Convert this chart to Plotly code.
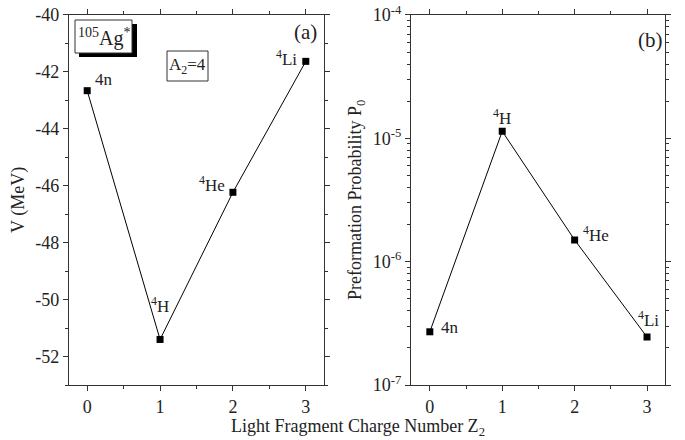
import plotly.graph_objects as go
import math

z2 = [0, 1, 2, 3]
labels = ["4n", "<sup>4</sup>H", "<sup>4</sup>He", "<sup>4</sup>Li"]
V = [-42.66, -51.4, -46.23, -41.63]
P0 = [2.7e-7, 1.14e-5, 1.5e-6, 2.45e-7]
v_ticks = [-40, -42, -44, -46, -48, -50, -52]
v_ticktext = [str(t) for t in v_ticks]
p_ticks = [1e-7, 1e-6, 1e-5, 1e-4]
p_ticktext = ["10<sup>-7</sup>", "10<sup>-6</sup>", "10<sup>-5</sup>", "10<sup>-4</sup>"]

FONT = "Liberation Serif"
fs = 18

fig = go.Figure()
fig.add_trace(go.Scatter(x=z2, y=V, mode="lines+markers", xaxis="x", yaxis="y",
                         line=dict(color="black", width=1),
                         marker=dict(symbol="square", size=7, color="black"),
                         showlegend=False))
fig.add_trace(go.Scatter(x=z2, y=P0, mode="lines+markers", xaxis="x2", yaxis="y2",
                         line=dict(color="black", width=1),
                         marker=dict(symbol="square", size=7, color="black"),
                         showlegend=False))

axcommon = dict(showgrid=False, zeroline=False, showline=True, linecolor="#333",
                linewidth=1.2, mirror="ticks", ticks="outside", ticklen=5, automargin=False,
                tickcolor="#333", tickfont=dict(family=FONT, size=fs, color="#222"))

fig.update_layout(
    width=685, height=440,
    margin=dict(l=0, r=0, t=0, b=0, autoexpand=False),
    paper_bgcolor="white", plot_bgcolor="white",
    font=dict(family=FONT, size=fs, color="#222"),
    xaxis=dict(domain=[0.1007, 0.473], range=[-0.25, 3.25], tickvals=[0, 1, 2, 3],
               minor=dict(ticks="outside", ticklen=3, dtick=0.5, tick0=0, tickcolor="#333"),
               anchor="y", **axcommon),
    yaxis=dict(domain=[0.125, 0.966], range=[-53, -40], tickvals=v_ticks, ticktext=v_ticktext,
               minor=dict(ticks="outside", ticklen=3, dtick=1, tick0=0, tickcolor="#333"),
               anchor="x", **axcommon),
    xaxis2=dict(domain=[0.6, 0.971], range=[-0.26, 3.25], tickvals=[0, 1, 2, 3],
                minor=dict(ticks="outside", ticklen=3, dtick=0.5, tick0=0, tickcolor="#333"),
                anchor="y2", **axcommon),
    yaxis2=dict(domain=[0.125, 0.966], type="log", range=[-7, -4],
                tickvals=p_ticks, ticktext=p_ticktext,
                minor=dict(ticks="outside", ticklen=3, tickcolor="#333",
                           tickvals=[m * 10 ** e for e in (-7, -6, -5) for m in range(2, 10)]),
                anchor="x2", **axcommon),
)

ann = []
ann.append(dict(text="V (MeV)", x=18, y=200, showarrow=False, textangle=-90, font=dict(size=fs)))
ann.append(dict(text="Preformation Probability P<sub>0</sub>", x=356, y=200, showarrow=False,
                textangle=-90, font=dict(size=fs)))
ann.append(dict(text="Light Fragment Charge Number Z<sub>2</sub>", x=358, y=427, showarrow=False,
                font=dict(size=fs)))
ann.append(dict(text="(a)", x=305, y=32, showarrow=False, font=dict(size=21)))
ann.append(dict(text="(b)", x=650, y=40, showarrow=False, font=dict(size=21)))
ann.append(dict(text="<sup>105</sup>Ag<sup>*</sup>", x=103.5, y=37, showarrow=False, font=dict(size=20)))
ann.append(dict(text="A<sub>2</sub>=4", x=187.5, y=66, showarrow=False, font=dict(size=17)))
for a in ann:
    a["x"] = a["x"] / 685
    a["y"] = 1 - a["y"] / 440
    a["xref"] = "paper"
    a["yref"] = "paper"
    a["xanchor"] = "center"
    a["yanchor"] = "middle"

left_off = [(6, 11, "left"), (0, 34, "center"), (-6, 8, "right"), (-7, 3, "right")]
for xi, yi, lab, (dx, dy, anc) in zip(z2, V, labels, left_off):
    ann.append(dict(text=lab, x=xi, y=yi, xref="x", yref="y", showarrow=False,
                    xanchor=anc, yanchor="middle", xshift=dx, yshift=dy, font=dict(size=17)))
right_off = [(9, 4, "left"), (0, 14, "center"), (6, 6, "left"), (1, 18, "center")]
for xi, yi, lab, (dx, dy, anc) in zip(z2, P0, labels, right_off):
    ann.append(dict(text=lab, x=xi, y=math.log10(yi), xref="x2", yref="y2", showarrow=False,
                    xanchor=anc, yanchor="middle", xshift=dx, yshift=dy, font=dict(size=17)))

fig.update_layout(annotations=ann)

shapes = []
shapes.append(dict(type="rect", xref="paper", yref="paper", layer="below",
                   x0=79/685, x1=137/685, y0=1-57/440, y1=1-24/440,
                   fillcolor="black", line=dict(width=0)))
shapes.append(dict(type="rect", xref="paper", yref="paper", layer="below",
                   x0=75/685, x1=132/685, y0=1-53/440, y1=1-20/440,
                   fillcolor="white", line=dict(color="#333", width=1)))
shapes.append(dict(type="rect", xref="paper", yref="paper", layer="below",
                   x0=167/685, x1=208/685, y0=1-81/440, y1=1-51/440,
                   fillcolor="white", line=dict(color="#333", width=1)))
fig.update_layout(shapes=shapes)

fig.write_html("out.html")
